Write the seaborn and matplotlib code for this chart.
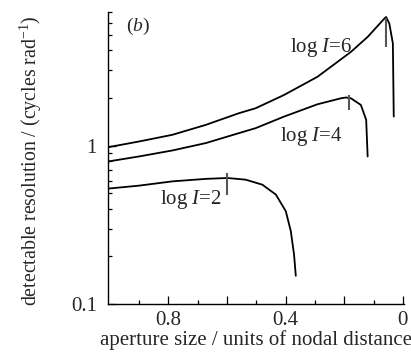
import numpy as np
import pandas as pd
import matplotlib
matplotlib.use("Agg")
import matplotlib.pyplot as plt
import seaborn as sns
from matplotlib.ticker import FixedLocator, NullFormatter, LogLocator, FixedFormatter

# ---- data ----
x_I6 = [1.003, 0.900, 0.786, 0.672, 0.559, 0.502, 0.405, 0.291, 0.177, 0.120, 0.063, 0.057, 0.046, 0.034, 0.031]
y_I6 = [0.981, 1.064, 1.173, 1.355, 1.606, 1.726, 2.094, 2.728, 3.918, 4.87, 6.36, 6.51, 5.91, 4.43, 1.53]

x_I4 = [1.003, 0.900, 0.786, 0.672, 0.559, 0.502, 0.405, 0.291, 0.211, 0.194, 0.177, 0.143, 0.125, 0.120]
y_I4 = [0.797, 0.856, 0.934, 1.04, 1.202, 1.292, 1.529, 1.829, 1.995, 2.018, 1.995, 1.81, 1.457, 0.856]

x_I2 = [1.003, 0.900, 0.786, 0.672, 0.598, 0.536, 0.479, 0.433, 0.399, 0.382, 0.371, 0.365]
y_I2 = [0.537, 0.560, 0.596, 0.618, 0.626, 0.611, 0.568, 0.492, 0.386, 0.289, 0.206, 0.151]

series_names = ["log $I$=6", "log $I$=4", "log $I$=2"]

# vertical markers (x, low, high)
mark_x = [0.057, 0.185, 0.598]
mark_lo = [4.21, 1.684, 0.492]
mark_hi = [6.45, 2.09, 0.673]

x_major = [0.8, 0.6, 0.4, 0.2, 0.0]
x_major_labels = ["0.8", "", "0.4", "", "0"]
x_minor = [0.9, 0.7, 0.5, 0.3, 0.1]
y_major = [0.1, 1]
y_major_labels = ["0.1", "1"]

df = pd.concat([
    pd.DataFrame({"x": x_I6, "y": y_I6, "s": series_names[0]}),
    pd.DataFrame({"x": x_I4, "y": y_I4, "s": series_names[1]}),
    pd.DataFrame({"x": x_I2, "y": y_I2, "s": series_names[2]}),
], ignore_index=True)

sns.set_theme(style="ticks")
plt.rcParams["font.family"] = ["Liberation Serif", "DejaVu Serif"]
plt.rcParams["mathtext.fontset"] = "custom"
plt.rcParams["mathtext.rm"] = "Liberation Serif"
plt.rcParams["mathtext.it"] = "Liberation Serif:italic"
plt.rcParams["mathtext.bf"] = "Liberation Serif:bold"

fig = plt.figure(figsize=(4.11, 3.52), dpi=100)
ax = fig.add_axes([0.263, 0.136, 0.72, 0.83])

sns.lineplot(data=df, x="x", y="y", units="s", estimator=None, sort=False,
             color="black", linewidth=1.3, ax=ax, legend=False)
ax.vlines(mark_x, mark_lo, mark_hi, color="#555555", linewidth=1.5)

ax.set_yscale("log")
ax.set_ylim(0.1, 7.0)
ax.set_xlim(1.005, -0.004)

ax.xaxis.set_major_locator(FixedLocator(x_major))
ax.xaxis.set_major_formatter(FixedFormatter(x_major_labels))
ax.xaxis.set_minor_locator(FixedLocator(x_minor))
ax.yaxis.set_major_locator(FixedLocator(y_major))
ax.yaxis.set_major_formatter(FixedFormatter(y_major_labels))
ax.yaxis.set_minor_locator(LogLocator(base=10, subs=np.arange(2, 10)))
ax.yaxis.set_minor_formatter(NullFormatter())

ax.tick_params(which="both", direction="in", color="black", labelsize=15, width=0.9)
ax.tick_params(which="major", length=6)
ax.tick_params(which="minor", length=3)
ax.tick_params(axis="x", pad=5)
ax.tick_params(axis="y", pad=8)

for side in ["top", "right"]:
    ax.spines[side].set_visible(False)
for side in ["left", "bottom"]:
    ax.spines[side].set_linewidth(1.0)
    ax.spines[side].set_color("black")

ax.set_xlabel("aperture size / units of nodal distance", fontsize=15, labelpad=0)
ax.set_ylabel("detectable resolution / (cycles rad$^{-1}$)", fontsize=14.3, labelpad=24)
ax.yaxis.set_label_coords(-0.215, 0.49)

ax.text(0.06, 0.985, "($\\it{b}$)", transform=ax.transAxes, fontsize=14, va="top", ha="left")
ax.text(0.28, 4.2, series_names[0], fontsize=15, ha="center", va="center")
ax.text(0.313, 1.14, series_names[1], fontsize=15, ha="center", va="center")
ax.text(0.723, 0.457, series_names[2], fontsize=15, ha="center", va="center")

fig.savefig("out.png", dpi=100)
